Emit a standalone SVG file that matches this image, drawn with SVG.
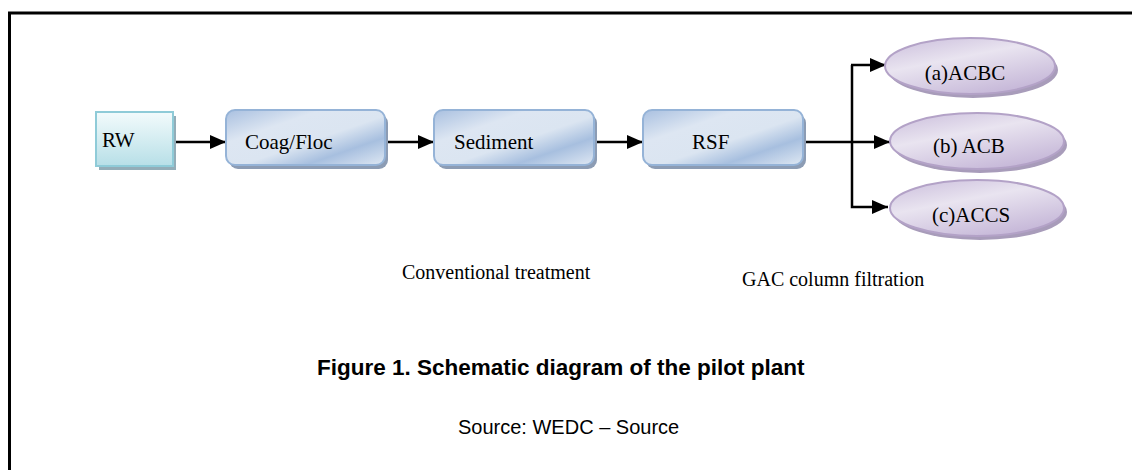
<svg xmlns="http://www.w3.org/2000/svg" width="1132" height="470" viewBox="0 0 1132 470">
<style>
.lbl{font-family:"Liberation Serif","Times New Roman",serif;font-size:21px;fill:#000}
.cap{font-family:"Liberation Serif","Times New Roman",serif;font-size:20px;fill:#000}
.title{font-family:"Liberation Sans",Arial,sans-serif;font-size:22.5px;font-weight:bold;fill:#000}
.src{font-family:"Liberation Sans",Arial,sans-serif;font-size:20px;fill:#000}
.box{fill:url(#gBlue);stroke:#95b3d7;stroke-width:2}
.shadow{fill:#8c9cb4}
.ell{fill:url(#gPurple);stroke:#b3a2c7;stroke-width:2}
.eshadow{fill:#a89cba}
.conn{fill:none;stroke:#000;stroke-width:2.5}
</style>
<defs>
<linearGradient id="gBlue" x1="0" y1="0" x2="1" y2="1">
<stop offset="0" stop-color="#a9c0e0"/>
<stop offset="0.3" stop-color="#dde6f2"/>
<stop offset="0.55" stop-color="#dbe5f1"/>
<stop offset="0.75" stop-color="#a7bfdf"/>
<stop offset="1" stop-color="#dfe8f3"/>
</linearGradient>
<linearGradient id="gCyan" x1="0" y1="0" x2="0" y2="1">
<stop offset="0" stop-color="#f3fbfc"/>
<stop offset="1" stop-color="#b7dfe7"/>
</linearGradient>
<linearGradient id="gPurple" x1="0" y1="0" x2="0.6" y2="1">
<stop offset="0" stop-color="#c9bcdb"/>
<stop offset="0.45" stop-color="#e9e4f0"/>
<stop offset="1" stop-color="#c7b9d9"/>
</linearGradient>
<marker id="arr" markerUnits="userSpaceOnUse" markerWidth="18" markerHeight="14" refX="16" refY="7" orient="auto">
<path d="M0 0 L16 7 L0 14 Z" fill="#000"/>
</marker>
</defs>
<rect x="9.5" y="13" width="1200" height="600" fill="none" stroke="#000" stroke-width="3"/>
<g id="connectors">
<line class="conn" x1="175" y1="142" x2="226" y2="142" marker-end="url(#arr)"/>
<line class="conn" x1="386" y1="142" x2="434" y2="142" marker-end="url(#arr)"/>
<line class="conn" x1="595" y1="142" x2="643" y2="142" marker-end="url(#arr)"/>
<line class="conn" x1="803" y1="142" x2="890" y2="142" marker-end="url(#arr)"/>
<polyline class="conn" points="852,65 852,207 888,207" marker-end="url(#arr)"/>
<line class="conn" x1="851" y1="65" x2="886" y2="65" marker-end="url(#arr)"/>
</g>
<g id="node-rw">
<rect x="99" y="116" width="77" height="54" fill="#93adb8"/>
<rect x="96" y="112" width="77" height="54" fill="url(#gCyan)" stroke="#8fcbd8" stroke-width="2"/>
<text class="lbl" x="102" y="147">RW</text>
</g>
<g id="node-coag">
<rect class="shadow" x="229" y="114" width="159" height="55" rx="9"/>
<rect class="box" x="226" y="110" width="159" height="55" rx="9"/>
<text class="lbl" x="245" y="149">Coag/Floc</text>
</g>
<g id="node-sediment">
<rect class="shadow" x="437" y="114" width="160" height="55" rx="9"/>
<rect class="box" x="434" y="110" width="160" height="55" rx="9"/>
<text class="lbl" x="454" y="149">Sediment</text>
</g>
<g id="node-rsf">
<rect class="shadow" x="646" y="114" width="160" height="55" rx="9"/>
<rect class="box" x="643" y="110" width="160" height="55" rx="9"/>
<text class="lbl" x="692" y="149">RSF</text>
</g>
<g id="node-acbc">
<ellipse class="eshadow" cx="973" cy="70" rx="85" ry="28"/>
<ellipse class="ell" cx="970" cy="66" rx="85" ry="28"/>
<text class="lbl" x="965" y="80" text-anchor="middle">(a)ACBC</text>
</g>
<g id="node-acb">
<ellipse class="eshadow" cx="980" cy="145" rx="87" ry="28"/>
<ellipse class="ell" cx="977" cy="141" rx="87" ry="28"/>
<text class="lbl" x="969" y="153" text-anchor="middle">(b) ACB</text>
</g>
<g id="node-accs">
<ellipse class="eshadow" cx="980" cy="212" rx="87" ry="28"/>
<ellipse class="ell" cx="977" cy="208" rx="87" ry="28"/>
<text class="lbl" x="971" y="222" text-anchor="middle">(c)ACCS</text>
</g>
<text class="cap" x="402" y="279">Conventional treatment</text>
<text class="cap" x="742" y="286">GAC column filtration</text>
<text class="title" x="317" y="375">Figure 1. Schematic diagram of the pilot plant</text>
<text class="src" x="458" y="434">Source: WEDC – Source</text>
</svg>
